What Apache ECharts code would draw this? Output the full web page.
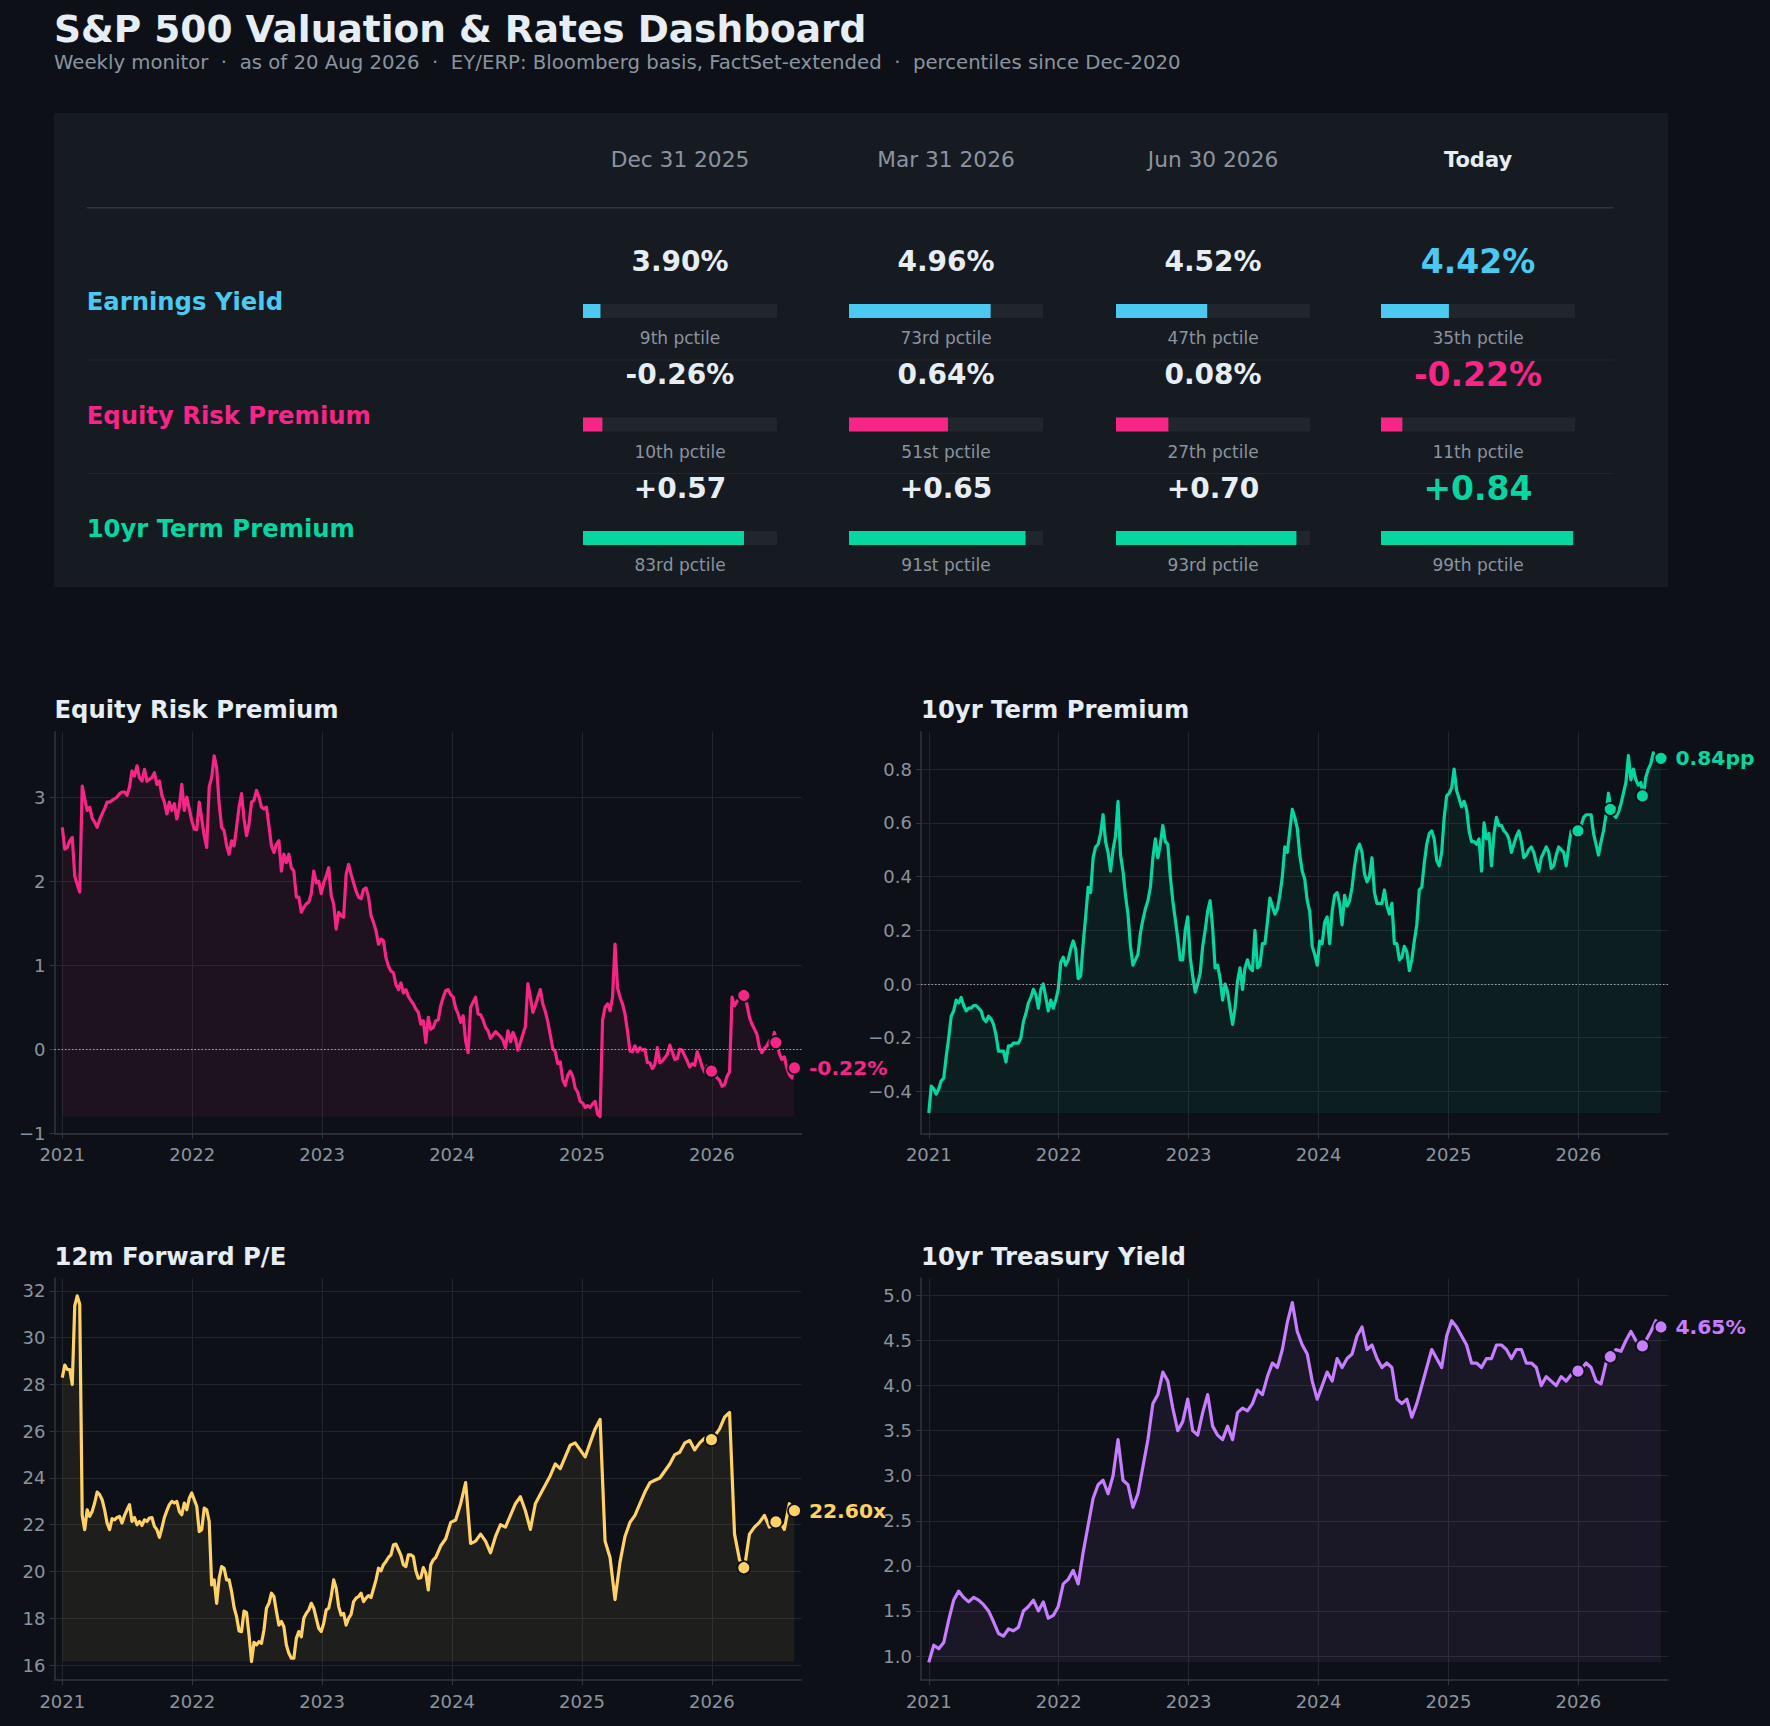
<!DOCTYPE html>
<html><head><meta charset="utf-8">
<script src="https://cdn.jsdelivr.net/npm/echarts@6/dist/echarts.min.js"></script>
<style>html,body{margin:0;padding:0;background:#0d1117;}#c{width:1770px;height:1726px;}</style>
</head><body><div id="c"></div><script>
// ---------- data ----------
const TITLE = 'S&P 500 Valuation & Rates Dashboard';
const SUBTITLE = 'Weekly monitor  \u00b7  as of 20 Aug 2026  \u00b7  EY/ERP: Bloomberg basis, FactSet-extended  \u00b7  percentiles since Dec-2020';
const snapLabels = ['Dec 31 2025', 'Mar 31 2026', 'Jun 30 2026', 'Today'];
const snapDates = [2025.997, 2026.246, 2026.493, 2026.636];
const rowNames = ['Earnings Yield', 'Equity Risk Premium', '10yr Term Premium'];
const eyVals = [3.90, 4.96, 4.52, 4.42];
const erpVals = [-0.26, 0.64, 0.08, -0.22];
const tpVals = [0.57, 0.65, 0.70, 0.84];
const eyPct = [9, 73, 47, 35];
const erpPct = [10, 51, 27, 11];
const tpPct = [83, 91, 93, 99];
const peSnap = [25.64, 20.16, 22.12, 22.60];
const ustSnap = [4.16, 4.32, 4.44, 4.65];
const chartTitles = ['Equity Risk Premium', '10yr Term Premium', '12m Forward P/E', '10yr Treasury Yield'];
const yearTicks = [2021, 2022, 2023, 2024, 2025, 2026];
const erpTicks = [-1, 0, 1, 2, 3];
const tpTicks = [-0.4, -0.2, 0.0, 0.2, 0.4, 0.6, 0.8];
const peTicks = [16, 18, 20, 22, 24, 26, 28, 30, 32];
const ustTicks = [1.0, 1.5, 2.0, 2.5, 3.0, 3.5, 4.0, 4.5, 5.0];
const seriesStart = 2021.0;          // 1 Jan 2021
const weekStep = 7 / 365.25;         // weekly observations
const biweekStep = 14 / 365.25;      // fortnightly observations
// weekly
const erp = [
 2.64, 2.38, 2.40, 2.48, 2.52, 2.06, 1.96, 1.87, 3.13, 2.98,
 2.84, 2.88, 2.75, 2.70, 2.64, 2.73, 2.80, 2.86, 2.94, 2.94,
 2.96, 2.98, 3.00, 3.04, 3.06, 3.06, 3.02, 3.12, 3.31, 3.25,
 3.37, 3.23, 3.19, 3.33, 3.19, 3.21, 3.23, 3.29, 3.15, 3.19,
 3.02, 2.94, 2.80, 2.94, 2.84, 2.92, 2.74, 2.88, 3.15, 2.84,
 3.00, 2.86, 2.72, 2.62, 2.61, 2.94, 2.74, 2.54, 2.40, 3.12,
 3.23, 3.49, 3.35, 2.92, 2.64, 2.60, 2.42, 2.32, 2.48, 2.42,
 2.64, 2.88, 3.04, 2.74, 2.54, 2.68, 2.94, 2.96, 3.08, 3.00,
 2.88, 2.86, 2.88, 2.66, 2.42, 2.34, 2.44, 2.48, 2.12, 2.32,
 2.22, 2.32, 2.16, 2.12, 1.81, 1.81, 1.63, 1.69, 1.73, 1.75,
 1.85, 2.12, 1.98, 2.00, 1.85, 1.98, 2.06, 2.16, 1.83, 1.73,
 1.43, 1.63, 1.59, 1.57, 2.08, 2.20, 2.08, 1.98, 1.88, 1.81,
 1.79, 1.90, 1.92, 1.81, 1.59, 1.51, 1.41, 1.25, 1.31, 1.29,
 1.09, 0.99, 0.93, 0.91, 0.77, 0.71, 0.79, 0.67, 0.71, 0.63,
 0.58, 0.54, 0.48, 0.44, 0.30, 0.34, 0.08, 0.38, 0.24, 0.26,
 0.34, 0.35, 0.52, 0.62, 0.70, 0.71, 0.65, 0.62, 0.49, 0.42,
 0.32, 0.40, 0.10, -0.04, 0.50, 0.56, 0.62, 0.42, 0.41, 0.35,
 0.26, 0.22, 0.13, 0.17, 0.21, 0.18, 0.15, 0.11, 0.02, 0.22,
 0.09, 0.20, 0.13, -0.01, 0.08, 0.18, 0.27, 0.78, 0.62, 0.44,
 0.52, 0.62, 0.71, 0.54, 0.45, 0.33, 0.17, 0.01, -0.03, -0.17,
 -0.15, -0.36, -0.43, -0.31, -0.26, -0.32, -0.46, -0.51, -0.62, -0.64,
 -0.69, -0.67, -0.69, -0.65, -0.62, -0.77, -0.80, 0.35, 0.50, 0.54,
 0.46, 0.62, 1.25, 0.73, 0.62, 0.54, 0.42, 0.22, -0.02, -0.03,
 0.04, -0.03, 0.02, -0.01, 0.00, -0.16, -0.16, -0.23, -0.18, 0.02,
 -0.16, -0.14, -0.10, -0.06, 0.05, -0.03, -0.12, -0.11, 0.00, -0.01,
 -0.08, -0.14, -0.21, -0.17, -0.19, -0.03, -0.11, -0.21, -0.27, -0.20,
 -0.25, -0.26, -0.29, -0.34, -0.37, -0.44, -0.42, -0.32, -0.27, 0.62,
 0.52, 0.57, 0.61, 0.63, 0.64, 0.53, 0.38, 0.30, 0.24, 0.18,
 0.02, -0.04, 0.01, 0.04, 0.10, 0.06, 0.20, 0.08, -0.05, -0.12,
 -0.09, -0.22, -0.30, -0.34, -0.22
];
// weekly
const tp = [
 -0.48, -0.38, -0.39, -0.41, -0.39, -0.36, -0.35, -0.27, -0.20, -0.12,
 -0.10, -0.06, -0.07, -0.05, -0.08, -0.10, -0.09, -0.09, -0.08, -0.08,
 -0.09, -0.10, -0.13, -0.14, -0.12, -0.13, -0.15, -0.19, -0.25, -0.25,
 -0.25, -0.29, -0.23, -0.23, -0.22, -0.22, -0.22, -0.20, -0.14, -0.11,
 -0.07, -0.05, -0.02, -0.04, -0.09, -0.02, 0.00, -0.05, -0.10, -0.06,
 -0.09, -0.06, -0.02, 0.08, 0.10, 0.07, 0.09, 0.13, 0.16, 0.13,
 0.02, 0.03, 0.15, 0.25, 0.36, 0.34, 0.47, 0.51, 0.52, 0.56,
 0.63, 0.53, 0.49, 0.42, 0.50, 0.55, 0.68, 0.48, 0.42, 0.33,
 0.26, 0.14, 0.07, 0.09, 0.11, 0.19, 0.24, 0.28, 0.31, 0.36,
 0.47, 0.54, 0.47, 0.52, 0.59, 0.53, 0.52, 0.40, 0.31, 0.24,
 0.17, 0.09, 0.09, 0.20, 0.25, 0.10, 0.03, -0.03, 0.00, 0.04,
 0.14, 0.20, 0.27, 0.31, 0.21, 0.06, 0.07, 0.02, -0.06, 0.00,
 -0.03, -0.09, -0.15, -0.09, 0.01, 0.06, -0.02, 0.06, 0.09, 0.06,
 0.05, 0.20, 0.06, 0.07, 0.15, 0.15, 0.23, 0.32, 0.29, 0.26,
 0.28, 0.33, 0.40, 0.51, 0.49, 0.57, 0.65, 0.62, 0.58, 0.48,
 0.42, 0.39, 0.31, 0.27, 0.14, 0.11, 0.07, 0.16, 0.15, 0.23,
 0.25, 0.15, 0.27, 0.33, 0.34, 0.30, 0.22, 0.33, 0.29, 0.31,
 0.36, 0.44, 0.50, 0.52, 0.49, 0.41, 0.38, 0.40, 0.47, 0.34,
 0.30, 0.30, 0.30, 0.35, 0.29, 0.26, 0.30, 0.15, 0.15, 0.09,
 0.10, 0.14, 0.12, 0.05, 0.09, 0.16, 0.22, 0.35, 0.36, 0.45,
 0.52, 0.56, 0.57, 0.54, 0.46, 0.44, 0.49, 0.62, 0.70, 0.71,
 0.73, 0.80, 0.72, 0.69, 0.66, 0.68, 0.65, 0.57, 0.53, 0.53,
 0.52, 0.54, 0.42, 0.60, 0.54, 0.56, 0.44, 0.56, 0.62, 0.59,
 0.59, 0.57, 0.56, 0.54, 0.49, 0.52, 0.55, 0.57, 0.53, 0.47,
 0.48, 0.50, 0.51, 0.49, 0.45, 0.42, 0.47, 0.49, 0.51, 0.49,
 0.43, 0.44, 0.48, 0.51, 0.50, 0.49, 0.44, 0.51, 0.57, 0.57,
 0.57, 0.57, 0.59, 0.62, 0.63, 0.63, 0.63, 0.56, 0.52, 0.48,
 0.53, 0.57, 0.63, 0.71, 0.65, 0.63, 0.62, 0.64, 0.67, 0.71,
 0.75, 0.85, 0.76, 0.80, 0.76, 0.74, 0.75, 0.70, 0.77, 0.80,
 0.82, 0.86, 0.83, 0.83, 0.84
];
// P/E: weekly from 1 Jan 2021 to mid-Nov 2023 ...
const peWeekly = [
 28.29, 28.83, 28.64, 28.64, 28.00, 31.36, 31.79, 31.43, 22.40, 21.79,
 22.64, 22.36, 22.57, 22.93, 23.40, 23.29, 23.07, 22.64, 22.07, 21.79,
 22.26, 22.21, 22.31, 22.36, 22.07, 22.40, 22.64, 22.86, 22.14, 22.31,
 22.00, 22.14, 21.97, 22.21, 22.14, 22.29, 22.31, 21.93, 21.79, 21.46,
 21.86, 22.31, 22.60, 22.86, 23.00, 22.93, 23.00, 22.57, 22.43, 22.93,
 22.64, 23.14, 23.36, 23.07, 22.79, 21.71, 21.79, 22.71, 22.64, 22.14,
 19.43, 19.64, 18.64, 19.71, 20.21, 20.14, 19.64, 19.64, 19.14, 18.46,
 18.07, 17.46, 17.43, 18.31, 18.24, 17.29, 16.15, 16.97, 16.86, 17.00,
 16.93, 17.50, 18.43, 18.64, 19.07, 18.93, 18.29, 17.71, 17.86, 17.64,
 16.86, 16.50, 16.29, 16.29, 17.14, 17.43, 17.21, 18.00, 18.21, 18.36,
 18.64, 18.43, 18.00, 17.57, 17.43, 17.79, 18.36, 18.43, 18.93, 19.64,
 19.29, 18.50, 18.14, 18.21, 17.71, 18.00, 18.17, 18.71, 18.86, 18.93,
 19.07, 18.71, 18.86, 18.97, 18.89, 19.26, 19.64, 20.14, 20.03, 20.29,
 20.43, 20.60, 20.71, 21.14, 21.17, 20.93, 20.69, 20.29, 20.21, 20.71,
 20.71, 20.64, 20.03, 19.71, 19.74, 20.17, 19.93, 19.21, 20.29, 20.50
];
// ... then fortnightly to 20 Aug 2026
const peFortnightly = [
 20.6, 21.1, 21.4, 22.1, 22.2, 22.9, 23.8, 21.2, 21.3, 21.6,
 21.3, 20.8, 21.5, 22.0, 21.9, 22.4, 22.9, 23.2, 22.6, 21.8,
 22.9, 23.3, 23.7, 24.1, 24.6, 24.4, 24.9, 25.4, 25.5, 25.2,
 24.9, 25.5, 26.1, 26.5, 21.3, 20.6, 18.8, 20.4, 21.5, 22.1,
 22.4, 22.9, 23.4, 23.8, 23.9, 24.0, 24.3, 24.6, 25.0, 25.1,
 25.5, 25.6, 25.2, 25.5, 25.7, 25.64, 25.8, 26.1, 26.6, 26.8,
 21.6, 20.5, 20.16, 21.6, 21.9, 22.1, 22.4, 21.9, 22.12, 22.2,
 21.8, 22.9, 22.6
];
// fortnightly
const ust = [
 0.93, 1.12, 1.08, 1.15, 1.4, 1.62, 1.72, 1.65, 1.6, 1.65,
 1.62, 1.57, 1.5, 1.38, 1.25, 1.22, 1.3, 1.28, 1.32, 1.5,
 1.55, 1.62, 1.5, 1.6, 1.42, 1.45, 1.55, 1.8, 1.85, 1.95,
 1.8, 2.15, 2.45, 2.75, 2.9, 2.95, 2.8, 3.0, 3.4, 2.95,
 2.9, 2.65, 2.8, 3.1, 3.4, 3.8, 3.9, 4.15, 4.05, 3.75,
 3.5, 3.6, 3.85, 3.5, 3.45, 3.7, 3.9, 3.55, 3.45, 3.4,
 3.55, 3.4, 3.7, 3.75, 3.72, 3.8, 3.95, 3.9, 4.1, 4.25,
 4.2, 4.4, 4.7, 4.92, 4.6, 4.45, 4.35, 4.05, 3.85, 4.0,
 4.15, 4.05, 4.3, 4.2, 4.3, 4.35, 4.55, 4.65, 4.4, 4.45,
 4.3, 4.2, 4.25, 4.2, 3.85, 3.8, 3.85, 3.65, 3.8, 4.0,
 4.2, 4.4, 4.3, 4.2, 4.55, 4.72, 4.65, 4.55, 4.45, 4.25,
 4.25, 4.2, 4.3, 4.3, 4.45, 4.45, 4.4, 4.3, 4.4, 4.4,
 4.25, 4.25, 4.2, 4.0, 4.1, 4.05, 4.0, 4.1, 4.05, 4.12,
 4.16, 4.18, 4.25, 4.2, 4.05, 4.02, 4.25, 4.32, 4.4, 4.38,
 4.5, 4.6, 4.5, 4.44, 4.5, 4.6, 4.72, 4.65
];

// ---------- dates for each series ----------
const datesAt = (n, step, offset) => Array.from({length: n}, (_, i) => seriesStart + offset + i * step);
const erpX = datesAt(erp.length, weekStep, 0);
const tpX = datesAt(tp.length, weekStep, 0);
const peX = datesAt(peWeekly.length, weekStep, 0).concat(datesAt(peFortnightly.length, biweekStep, peWeekly.length * weekStep));
const pe = peWeekly.concat(peFortnightly);
const ustX = datesAt(ust.length, biweekStep, 0);

// ---------- style ----------
const C = {bg: '#0d1117', panel: '#161b22', track: '#21262d', grid: '#21262d', spine: '#30363d',
  text: '#e6edf3', muted: '#8b949e', rowSep: '#21262d', headSep: '#30363d'};
const COL = {ey: '#4cc9f0', erp: '#f72585', tp: '#06d6a0', pe: '#ffd166', ust: '#c77dff'};
const FONT = '"DejaVu Sans", Verdana, sans-serif';
function rgba(hex, a) {
  const n = parseInt(hex.slice(1), 16);
  return `rgba(${(n >> 16) & 255},${(n >> 8) & 255},${n & 255},${a})`;
}
function txt(text, x, y, size, color, weight, align) {
  return {type: 'text', z: 10, silent: true, style: {text: text, x: x, y: y, fill: color,
    fontSize: size, fontWeight: weight || 'normal', fontFamily: FONT,
    textAlign: align || 'left', textVerticalAlign: 'middle', align: align || 'left', verticalAlign: 'middle'}};
}
function ordinal(n) {
  const m = n % 100;
  if (m >= 11 && m <= 13) return n + 'th';
  const d = n % 10;
  return n + (d === 1 ? 'st' : d === 2 ? 'nd' : d === 3 ? 'rd' : 'th');
}
const minus = s => s.replace('-', '\u2212');

// ---------- layout ----------
const colX = [680, 946, 1213, 1478];
const barW = 194;
const rowBarY = [311, 424.5, 538];
const rowStep = 113.5;
const tableLeft = 86.7, tableRight = 1613;

const graphics = [];
graphics.push({type: 'rect', z: 0, silent: true, shape: {x: 54, y: 113, width: 1614, height: 474}, style: {fill: C.panel}});
graphics.push(txt(TITLE, 54, 29, 37.5, C.text, 'bold'));
graphics.push(txt(SUBTITLE, 54, 62, 19.7, C.muted, 'normal'));
snapLabels.forEach((s, k) => {
  graphics.push(txt(s, colX[k], 159.5, k === 3 ? 21 : 21.7, k === 3 ? C.text : C.muted, k === 3 ? 'bold' : 'normal', 'center'));
});
graphics.push({type: 'line', z: 1, silent: true, shape: {x1: tableLeft, y1: 207.7, x2: tableRight, y2: 207.7}, style: {stroke: C.headSep, lineWidth: 1.5}});
[360, 473.5].forEach(y => graphics.push({type: 'line', z: 1, silent: true, shape: {x1: tableLeft, y1: y, x2: tableRight, y2: y}, style: {stroke: C.rowSep, lineWidth: 1}}));

const rowVals = [eyVals, erpVals, tpVals];
const rowPct = [eyPct, erpPct, tpPct];
const rowCol = [COL.ey, COL.erp, COL.tp];
const rowFmt = [v => v.toFixed(2) + '%', v => v.toFixed(2) + '%', v => (v >= 0 ? '+' : '') + v.toFixed(2)];
rowNames.forEach((name, r) => {
  const by = rowBarY[r];
  graphics.push(txt(name, tableLeft, by - 9.3, 24.3, rowCol[r], 'bold'));
  for (let k = 0; k < 4; k++) {
    const today = k === 3;
    graphics.push(txt(rowFmt[r](rowVals[r][k]), colX[k], by - 50, today ? 33 : 28, today ? rowCol[r] : C.text, 'bold', 'center'));
    graphics.push(txt(ordinal(rowPct[r][k]) + ' pctile', colX[k], by + 27, 17, C.muted, 'normal', 'center'));
  }
});

// ---------- option ----------
const grids = [], xAxes = [], yAxes = [], series = [];
colX.forEach((cx, k) => {
  grids.push({left: cx - barW / 2, top: rowBarY[0] - rowStep / 2, width: barW, height: rowStep * 3, outerBoundsMode: 'none', containLabel: false});
  xAxes.push({gridIndex: k, type: 'value', min: 0, max: 100, show: false});
  yAxes.push({gridIndex: k, type: 'category', data: rowNames, inverse: true, show: false});
  series.push({type: 'bar', xAxisIndex: k, yAxisIndex: k, barWidth: 14, silent: true,
    showBackground: true, backgroundStyle: {color: C.track},
    data: rowNames.map((n, r) => ({value: rowPct[r][k], itemStyle: {color: rowCol[r]}})),
    animation: false, z: 3});
});

const charts = [
  {title: chartTitles[0], left: 54.5, top: 731.7, x: erpX, data: erp, color: COL.erp, min: -1.0, max: 3.777, ticks: erpTicks,
   fmt: v => minus(String(Math.round(v))), snap: erpVals, end: v => v.toFixed(2) + '%', zero: true},
  {title: chartTitles[1], left: 921, top: 731.7, x: tpX, data: tp, color: COL.tp, min: -0.556, max: 0.939, ticks: tpTicks,
   fmt: v => minus(v.toFixed(1)), snap: tpVals, end: v => v.toFixed(2) + 'pp', zero: true},
  {title: chartTitles[2], left: 54.5, top: 1278.3, x: peX, data: pe, color: COL.pe, min: 15.36, max: 32.54, ticks: peTicks,
   fmt: v => String(Math.round(v)), snap: peSnap, end: v => v.toFixed(2) + 'x', zero: false},
  {title: chartTitles[3], left: 921, top: 1278.3, x: ustX, data: ust, color: COL.ust, min: 0.734, max: 5.19, ticks: ustTicks,
   fmt: v => v.toFixed(1), snap: ustSnap, end: v => v.toFixed(2) + '%', zero: false}
];
const plotW = 747, plotH = 401.7;
charts.forEach((ch, j) => {
  const gi = 4 + j;
  graphics.push(txt(ch.title, ch.left, ch.top - 22, 24.3, C.text, 'bold'));
  grids.push({left: ch.left, top: ch.top, width: plotW, height: plotH, outerBoundsMode: 'none', containLabel: false});
  xAxes.push({gridIndex: gi, type: 'value', min: 2020.94, max: 2026.69,
    axisLine: {show: true, onZero: false, lineStyle: {color: C.spine, width: 1.5}},
    axisTick: {show: true, length: 5, customValues: yearTicks, lineStyle: {color: C.spine, width: 1}},
    axisLabel: {show: true, customValues: yearTicks, color: C.muted, fontSize: 18, fontFamily: FONT, margin: 12,
      formatter: v => String(Math.round(v))},
    splitLine: {show: true, lineStyle: {color: C.grid, width: 1}}});
  yAxes.push({gridIndex: gi, type: 'value', min: ch.min, max: ch.max,
    axisLine: {show: true, onZero: false, lineStyle: {color: C.spine, width: 1.5}},
    axisTick: {show: true, length: 5, customValues: ch.ticks, lineStyle: {color: C.spine, width: 1}},
    axisLabel: {show: true, customValues: ch.ticks, color: C.muted, fontSize: 18, fontFamily: FONT, margin: 9,
      formatter: ch.fmt},
    splitLine: {show: true, lineStyle: {color: C.grid, width: 1}}});
  const lo = Math.min.apply(null, ch.data);
  const line = {type: 'line', xAxisIndex: gi, yAxisIndex: gi, animation: false, silent: true,
    data: ch.data.map((v, i) => [ch.x[i], v]),
    showSymbol: false, symbol: 'none', lineStyle: {color: ch.color, width: 3.2, join: 'round'}, itemStyle: {color: ch.color},
    areaStyle: {color: rgba(ch.color, 0.1), origin: lo}, z: 3};
  if (ch.zero) {
    line.markLine = {silent: true, symbol: 'none', animation: false, label: {show: false},
      lineStyle: {type: [1.5, 2], color: '#9aa3ad', width: 1.2, opacity: 1}, data: [{yAxis: 0}]};
  }
  series.push(line);
  series.push({type: 'scatter', xAxisIndex: gi, yAxisIndex: gi, animation: false, silent: true, symbolSize: 13, z: 5,
    itemStyle: {color: ch.color, borderColor: C.bg, borderWidth: 1.8, opacity: 1},
    data: snapDates.map((d, k) => ({value: [d, ch.snap[k]],
      label: k === 3 ? {show: true, position: 'right', distance: 7, formatter: ch.end(ch.snap[k]),
        color: ch.color, fontSize: 20.3, fontWeight: 'bold', fontFamily: FONT} : {show: false}}))});
});

const chart = echarts.init(document.getElementById('c'), null, {renderer: 'svg', width: 1770, height: 1726});
chart.setOption({
  backgroundColor: C.bg,
  animation: false,
  textStyle: {fontFamily: FONT},
  grid: grids, xAxis: xAxes, yAxis: yAxes, series: series,
  graphic: {elements: graphics}
});
</script></body></html>
